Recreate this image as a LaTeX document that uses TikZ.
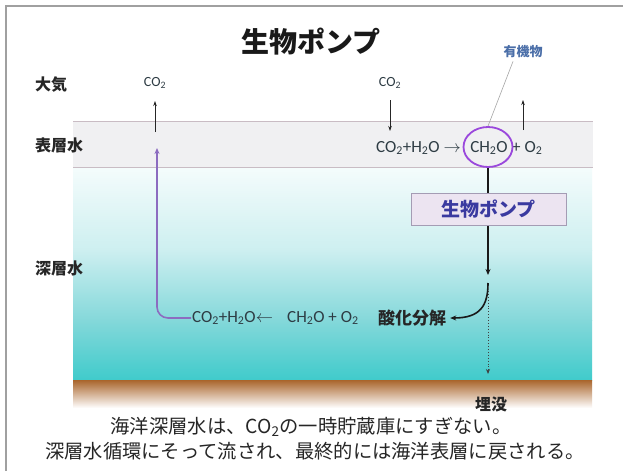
\documentclass[tikz,border=0pt]{standalone}
\usepackage{fontspec}
\setmainfont{Carlito}
\newfontfamily\jp{Noto Sans CJK JP}
\usetikzlibrary{arrows.meta,shapes.geometric}
\newcommand{\ltwo}{\textsubscript{2}}
\definecolor{framec}{HTML}{A0A0A0}
\definecolor{deepA}{HTML}{F4FCFC}
\definecolor{deepB}{HTML}{CDEFF0}
\definecolor{deepC}{HTML}{84D8DA}
\definecolor{deepD}{HTML}{40CBCB}
\definecolor{sedTop}{HTML}{A9652B}
\definecolor{surf}{HTML}{F0F0F2}
\definecolor{bandline}{HTML}{C9BCC4}
\definecolor{eqc}{HTML}{2E3C44}
\definecolor{orgc}{HTML}{4A6EA8}
\definecolor{ellc}{HTML}{9A48DC}
\definecolor{purpc}{HTML}{8C6CC0}
\definecolor{boxfill}{HTML}{ECE4F1}
\definecolor{boxline}{HTML}{A49CB4}
\definecolor{boxtext}{HTML}{3A3AA0}
\definecolor{labc}{HTML}{262626}
\tikzset{
  lab/.style={anchor=west, inner sep=0pt, text=labc, font=\jp\bfseries\fontsize{16}{18}\selectfont},
  co/.style={inner sep=1pt, text=eqc, font=\fontsize{14}{16}\selectfont},
  eq/.style={inner sep=1pt, text=eqc, font=\fontsize{17}{19}\selectfont},
  thinarr/.style={draw=black!85, line width=0.7pt, -{Stealth[length=5pt,width=3.5pt]}},
  mainarr/.style={draw=black!90, line width=1.6pt, -{Stealth[length=6pt,width=5pt]}},
  pumpbox/.style={draw=boxline, fill=boxfill, line width=0.8pt, minimum width=155pt, minimum height=32pt, inner sep=0pt, text=boxtext, font=\jp\bfseries\fontsize{19}{21}\selectfont},
  jb/.style={inner sep=0pt, text=labc, font=\jp\bfseries\fontsize{17}{19}\selectfont},
  bottomtext/.style={inner sep=0pt, text=labc, font=\jp\fontsize{19.3}{22}\selectfont}
}
\begin{document}
\begin{tikzpicture}[x=1pt,y=-1pt]
\useasboundingbox (0,0) rectangle (623,471);
\fill[white] (0,0) rectangle (623,471);
% frame
\draw[framec, line width=1.5pt] (6,471) -- (6,6) -- (623,6);
% deep water (piecewise vertical gradient)
\shade[top color=deepA, bottom color=deepB] (73,168) rectangle (592,250.5);
\shade[top color=deepB, bottom color=deepC] (73,250) rectangle (592,320.5);
\shade[top color=deepC, bottom color=deepD] (73,320) rectangle (592,380);
% sediment
\shade[top color=sedTop, bottom color=white] (73,380) rectangle (592,408);
% surface water band
\fill[surf] (73,121) rectangle (593,167);
\draw[bandline, line width=1pt] (73,121) -- (593,121);
\draw[bandline, line width=1pt] (73,167) -- (593,167);

% title and layer labels
\node[inner sep=0pt, text=black!90, font=\jp\bfseries\fontsize{28}{32}\selectfont] (title) at (311,42) {生物ポンプ};
\node[lab] (atm) at (35,85) {大気};
\node[lab] (surfl) at (35,145) {表層水};
\node[lab] (deepl) at (35,268) {深層水};

% CO2 labels
\node[co] (co2a) at (155,83) {CO\ltwo};
\node[co] (co2b) at (390,83) {CO\ltwo};

% surface equation
\node[eq, anchor=east] (eqL) at (462,148) {CO\ltwo+H\ltwo O $\rightarrow$};
\node[eq] (ch) at (489,148) {CH\ltwo O};
\node[eq, anchor=west] (o2) at (511,148) {+ O\ltwo};
\node[draw=ellc, line width=1.8pt, ellipse, minimum width=49pt, minimum height=40pt, inner sep=0pt] (ell) at (488,147) {};

% organic matter label
\node[inner sep=0pt, text=orgc, font=\jp\bfseries\fontsize{13}{15}\selectfont] (org) at (523,52) {有機物};
\draw[gray!70, line width=0.6pt] (ell.north) -- ([xshift=-10pt,yshift=-3pt]org.south);

% small arrows
\coordinate (a1s) at (155,132);
\coordinate (a1e) at (155,101);
\draw[thinarr] (a1s) -- (a1e);
\coordinate (a2s) at (390,100);
\coordinate (a2e) at (390,131);
\draw[thinarr] (a2s) -- (a2e);
\coordinate (a3s) at (523,130);
\coordinate (a3e) at (523,100);
\draw[thinarr] (a3s) -- (a3e);

% main sinking arrow
\coordinate (sinkEnd) at (488,275);
\draw[mainarr] (ell.south) -- (sinkEnd);
\node[pumpbox] (pump) at (488.5,209) {生物ポンプ};

% decomposition
\node[jb] (dec) at (412,318) {酸化分解};
\coordinate (curveStart) at (488,283);
\draw[mainarr] (curveStart) .. controls (488,306) and (480,318) .. ([xshift=4pt]dec.east);

% burial dotted arrow
\coordinate (dotS) at (488,291);
\coordinate (dotE) at (488,374);
\draw[black!75, line width=0.9pt, dotted, -{Stealth[length=5pt,width=4pt]}] (dotS) -- (dotE);
\node[inner sep=0pt, text=labc, font=\jp\bfseries\fontsize{16}{18}\selectfont] (bury) at (491,404) {埋没};

% lower equation
\node[eq, anchor=west] (eqB1) at (191,318) {CO\ltwo+H\ltwo O$\leftarrow$};
\node[eq, anchor=west] (eqB2) at (286,318) {CH\ltwo O + O\ltwo};

% return path
\coordinate (retCorner) at (157,318);
\coordinate (retEnd) at (157,148);
\draw[purpc, line width=1.6pt, rounded corners=11pt, -{Stealth[length=6pt,width=5pt]}] (eqB1.west) -- (retCorner) -- (retEnd);

% bottom text
\node[bottomtext] (l1) at (311,427) {海洋深層水は、CO\ltwo の一時貯蔵庫にすぎない。};
\node[bottomtext] (l2) at (315,451) {深層水循環にそって流され、最終的には海洋表層に戻される。};
\end{tikzpicture}
\end{document}
